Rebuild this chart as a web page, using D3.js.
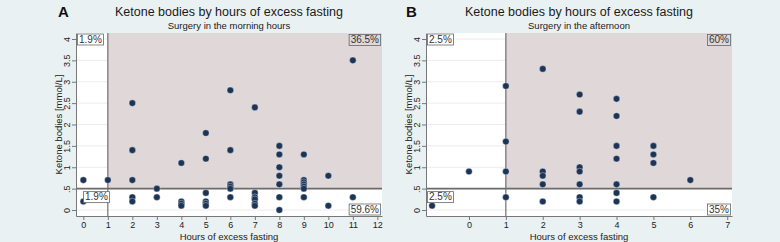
<!DOCTYPE html>
<html>
<head>
<meta charset="utf-8">
<script src="https://cdn.jsdelivr.net/npm/d3@7"></script>
<style>
  body { margin: 0; background: #eaf1f3; }
  svg { display: block; font-family: "Liberation Sans", Arial, sans-serif; }
</style>
</head>
<body>
<div id="chart"></div>
<script>
// morning surgery (panel A)
const morningHours = [0, 0, 1,
  2, 2, 2, 2, 2,
  3, 3,
  4, 4, 4, 4,
  5, 5, 5, 5, 5, 5,
  6, 6, 6, 6, 6, 6,
  7, 7, 7, 7, 7, 7,
  8, 8, 8, 8, 8, 8, 8,
  9, 9, 9, 9, 9, 9, 9,
  10, 10,
  11, 11];
const morningKetone = [0.7, 0.2, 0.7,
  2.5, 1.4, 0.7, 0.3, 0.2,
  0.5, 0.3,
  1.1, 0.2, 0.15, 0.1,
  1.8, 1.2, 0.4, 0.2, 0.15, 0.1,
  2.8, 1.4, 0.6, 0.55, 0.5, 0.3,
  2.4, 0.4, 0.3, 0.25, 0.15, 0.1,
  1.5, 1.3, 1.0, 0.8, 0.6, 0.3, 0.0,
  1.3, 0.7, 0.65, 0.6, 0.55, 0.5, 0.3,
  0.8, 0.1,
  3.5, 0.3];

// afternoon surgery (panel B)
const afternoonHours = [-1, 0,
  1, 1, 1, 1,
  2, 2, 2, 2, 2,
  3, 3, 3, 3, 3, 3, 3,
  4, 4, 4, 4, 4, 4, 4,
  5, 5, 5, 5,
  6];
const afternoonKetone = [0.1, 0.9,
  2.9, 1.6, 0.9, 0.3,
  3.3, 0.9, 0.8, 0.6, 0.2,
  2.7, 2.3, 1.0, 0.9, 0.6, 0.3, 0.2,
  2.6, 2.2, 1.5, 1.2, 0.6, 0.4, 0.2,
  1.5, 1.3, 1.1, 0.3,
  0.7];

const yTicks = [0, 0.5, 1, 1.5, 2, 2.5, 3, 3.5, 4];
const yTickLabels = ["0", ".5", "1", "1.5", "2", "2.5", "3", "3.5", "4"];
const morningXTicks = [0, 1, 2, 3, 4, 5, 6, 7, 8, 9, 10, 11, 12];
const afternoonXTicks = [0, 1, 2, 3, 4, 5, 6, 7];

const morningPct = ["1.9%", "36.5%", "1.9%", "59.6%"];   // TL, TR, BL, BR
const afternoonPct = ["2.5%", "60%", "2.5%", "35%"];

const cutHours = 1, cutKetone = 0.5;

const width = 780, height = 242;

const svg = d3.select("#chart")
  .append("svg")
  .attr("width", width)
  .attr("height", height);

svg.append("rect")
  .attr("width", width)
  .attr("height", height)
  .attr("fill", "#eaf1f3");

function drawPanel(opt) {
  const x = d3.scaleLinear().domain(opt.xDomain).range([opt.left, opt.right]);
  const y = d3.scaleLinear().domain([-0.14, 4.14]).range([216, 33]);

  const g = svg.append("g");

  // plot region
  g.append("rect")
    .attr("x", opt.left).attr("y", y(4.14))
    .attr("width", opt.right - opt.left).attr("height", y(-0.14) - y(4.14))
    .attr("fill", "#fff");

  // grid
  g.selectAll(".grid")
    .data(yTicks)
    .join("line")
    .attr("x1", opt.left).attr("x2", opt.right)
    .attr("y1", d => y(d)).attr("y2", d => y(d))
    .attr("stroke", "#ececec")
    .attr("stroke-width", 1);

  // shaded quadrant
  g.append("rect")
    .attr("x", x(cutHours)).attr("y", y(4.14))
    .attr("width", opt.right - x(cutHours))
    .attr("height", y(cutKetone) - y(4.14))
    .attr("fill", "#e0d7d9");

  // reference lines
  g.append("line")
    .attr("x1", x(cutHours)).attr("x2", x(cutHours))
    .attr("y1", y(4.14)).attr("y2", y(-0.14))
    .attr("stroke", "#555").attr("stroke-width", 1);
  g.append("line")
    .attr("x1", opt.left).attr("x2", opt.right)
    .attr("y1", y(cutKetone)).attr("y2", y(cutKetone))
    .attr("stroke", "#6b6b6b").attr("stroke-width", 1.6);

  // axes
  const xAxis = g.append("g")
    .attr("transform", `translate(0,${y(-0.14)})`)
    .call(d3.axisBottom(x).tickValues(opt.xTicks).tickSize(4).tickSizeOuter(0).tickPadding(1.5));
  xAxis.select(".domain").attr("stroke", "#777");
  xAxis.selectAll(".tick line").attr("stroke", "#777");
  xAxis.selectAll("text").attr("font-size", 9).attr("fill", "#222")
    .attr("font-family", "Liberation Sans, Arial, sans-serif");

  const yAxis = g.append("g")
    .attr("transform", `translate(${opt.left},0)`)
    .call(d3.axisLeft(y).tickValues(yTicks).tickFormat((d, i) => yTickLabels[i])
      .tickSize(4).tickSizeOuter(0).tickPadding(2));
  yAxis.select(".domain").attr("stroke", "#777");
  yAxis.selectAll(".tick line").attr("stroke", "#777");
  yAxis.selectAll("text")
    .attr("font-size", 9).attr("fill", "#222")
    .attr("font-family", "Liberation Sans, Arial, sans-serif")
    .attr("x", null).attr("dy", null)
    .attr("text-anchor", "middle")
    .attr("transform", "translate(-6.5,0) rotate(-90)");

  // axis titles
  g.append("text")
    .attr("x", (opt.left + opt.right) / 2).attr("y", 239.5)
    .attr("text-anchor", "middle").attr("font-size", 9.5).attr("fill", "#222")
    .text("Hours of excess fasting");
  g.append("text")
    .attr("transform", `translate(${opt.left - 14},${(y(4.14) + y(-0.14)) / 2}) rotate(-90)`)
    .attr("text-anchor", "middle").attr("font-size", 9.5).attr("fill", "#222")
    .text("Ketone bodies [mmol/L]");

  // titles
  g.append("text")
    .attr("x", (opt.left + opt.right) / 2).attr("y", 16)
    .attr("text-anchor", "middle").attr("font-size", 12.5).attr("fill", "#1a1a1a")
    .text("Ketone bodies by hours of excess fasting");
  g.append("text")
    .attr("x", (opt.left + opt.right) / 2).attr("y", 28.5)
    .attr("text-anchor", "middle").attr("font-size", 9.5).attr("fill", "#1a1a1a")
    .text(opt.subtitle);
  g.append("text")
    .attr("x", opt.letterX).attr("y", 17)
    .attr("font-size", 15).attr("font-weight", "bold").attr("fill", "#111")
    .text(opt.letter);

  // points
  const pts = opt.hours.map((h, i) => ({ h: h, k: opt.ketone[i] }));
  g.selectAll(".pt")
    .data(pts)
    .join("circle")
    .attr("cx", d => x(d.h))
    .attr("cy", d => y(d.k))
    .attr("r", 3.3)
    .attr("fill", "#1c3557")
    .attr("stroke", "rgba(255,255,255,0.35)")
    .attr("stroke-width", 1);

  // percentage boxes
  const boxes = [
    { t: opt.pct[0], x: opt.tlX, y: 34, anchor: "start" },
    { t: opt.pct[1], x: opt.right - 1, y: 34.5, anchor: "end" },
    { t: opt.pct[2], x: opt.blX, y: y(cutKetone) + 3, anchor: "start" },
    { t: opt.pct[3], x: opt.right - 1, y: y(-0.14) - 12, anchor: "end" }
  ];
  boxes.forEach((b, i) => {
    const t = g.append("text")
      .attr("font-size", 10).attr("fill", "#333")
      .attr("text-anchor", b.anchor)
      .attr("x", b.anchor === "start" ? b.x + 2 : b.x - 2)
      .attr("y", b.y + 8.8)
      .text(b.t);
    const bb = t.node().getBBox();
    g.insert("rect", () => t.node())
      .attr("x", bb.x - 1.5).attr("y", b.y)
      .attr("width", bb.width + 3).attr("height", 11)
      .attr("fill", i === 1 ? "#e0d7d9" : "#fff")
      .attr("stroke", "#666").attr("stroke-width", 0.8);
  });
}

drawPanel({
  letter: "A", letterX: 58,
  subtitle: "Surgery in the morning hours",
  left: 76, right: 382, xDomain: [-0.3, 12.19], xTicks: morningXTicks,
  hours: morningHours, ketone: morningKetone, pct: morningPct,
  tlX: 77, blX: 83
});

drawPanel({
  letter: "B", letterX: 406,
  subtitle: "Surgery in the afternoon",
  left: 426, right: 732, xDomain: [-1.165, 7.13], xTicks: afternoonXTicks,
  hours: afternoonHours, ketone: afternoonKetone, pct: afternoonPct,
  tlX: 427, blX: 427
});
</script>
</body>
</html>
